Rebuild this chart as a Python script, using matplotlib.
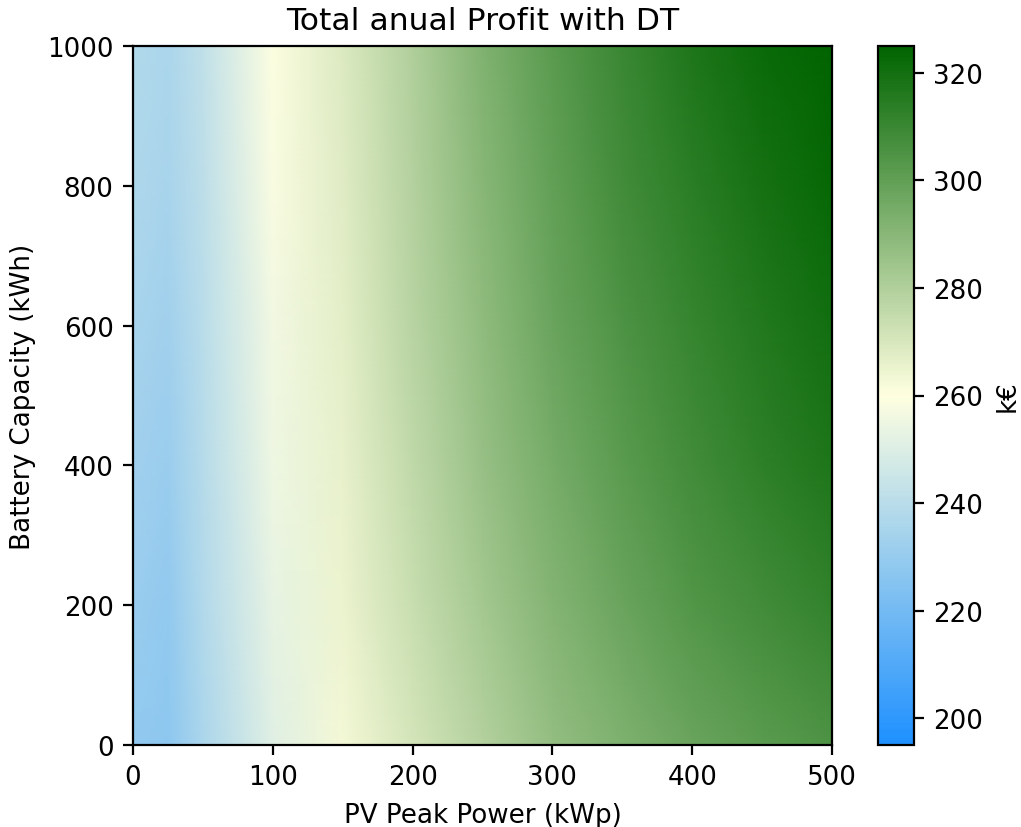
import numpy as np
import matplotlib
matplotlib.use("Agg")
import matplotlib.pyplot as plt
from matplotlib.colors import LinearSegmentedColormap

# Grid of simulated configurations
pv_peak_kwp = [0, 25, 50, 100, 150, 200, 250, 300, 350, 400, 450, 500]
battery_kwh = [0, 200, 400, 600, 800, 1000]

# Total annual profit (k€), one row per battery capacity
profit_b0    = [229, 227, 236, 251, 263, 271, 279, 287, 293, 298, 302, 305]
profit_b200  = [231, 229, 238, 253, 265, 274, 283, 291, 298, 304, 308, 312]
profit_b400  = [233, 231, 239, 255, 266, 276, 286, 295, 302, 308, 313, 317]
profit_b600  = [235, 233, 240, 256, 267, 278, 288, 298, 305, 311, 316, 320]
profit_b800  = [237, 235, 241, 258, 268, 279, 290, 300, 308, 314, 319, 323]
profit_b1000 = [238, 236, 242, 259, 269, 280, 292, 302, 310, 317, 322, 325]

profit = np.array([profit_b0, profit_b200, profit_b400,
                   profit_b600, profit_b800, profit_b1000], dtype=float)

cbar_ticks = [200, 220, 240, 260, 280, 300, 320]

plt.rcParams["font.size"] = 9.4

cmap = LinearSegmentedColormap.from_list(
    "profit", ["dodgerblue", "lightyellow", "darkgreen"])

fig = plt.figure(figsize=(1021 / 200, 828 / 200), dpi=200)
ax = fig.add_axes([133 / 1021, 82 / 828, 699 / 1021, 699 / 828])
cax = fig.add_axes([878 / 1021, 82 / 828, 36 / 1021, 699 / 828])

PV, BAT = np.meshgrid(pv_peak_kwp, battery_kwh)
mesh = ax.pcolormesh(PV, BAT, profit, cmap=cmap, vmin=195, vmax=325,
                     shading="gouraud", rasterized=True)
ax.set_xlim(0, 500)
ax.set_ylim(0, 1000)
ax.set_xticks([0, 100, 200, 300, 400, 500])
ax.set_yticks([0, 200, 400, 600, 800, 1000])
ax.set_xlabel("PV Peak Power (kWp)")
ax.set_ylabel("Battery Capacity (kWh)")
ax.set_title("Total anual Profit with DT", fontsize=11.3)

cb = fig.colorbar(mesh, cax=cax, ticks=cbar_ticks)
cb.set_label("k€")

fig.savefig("out.png", dpi=200)
